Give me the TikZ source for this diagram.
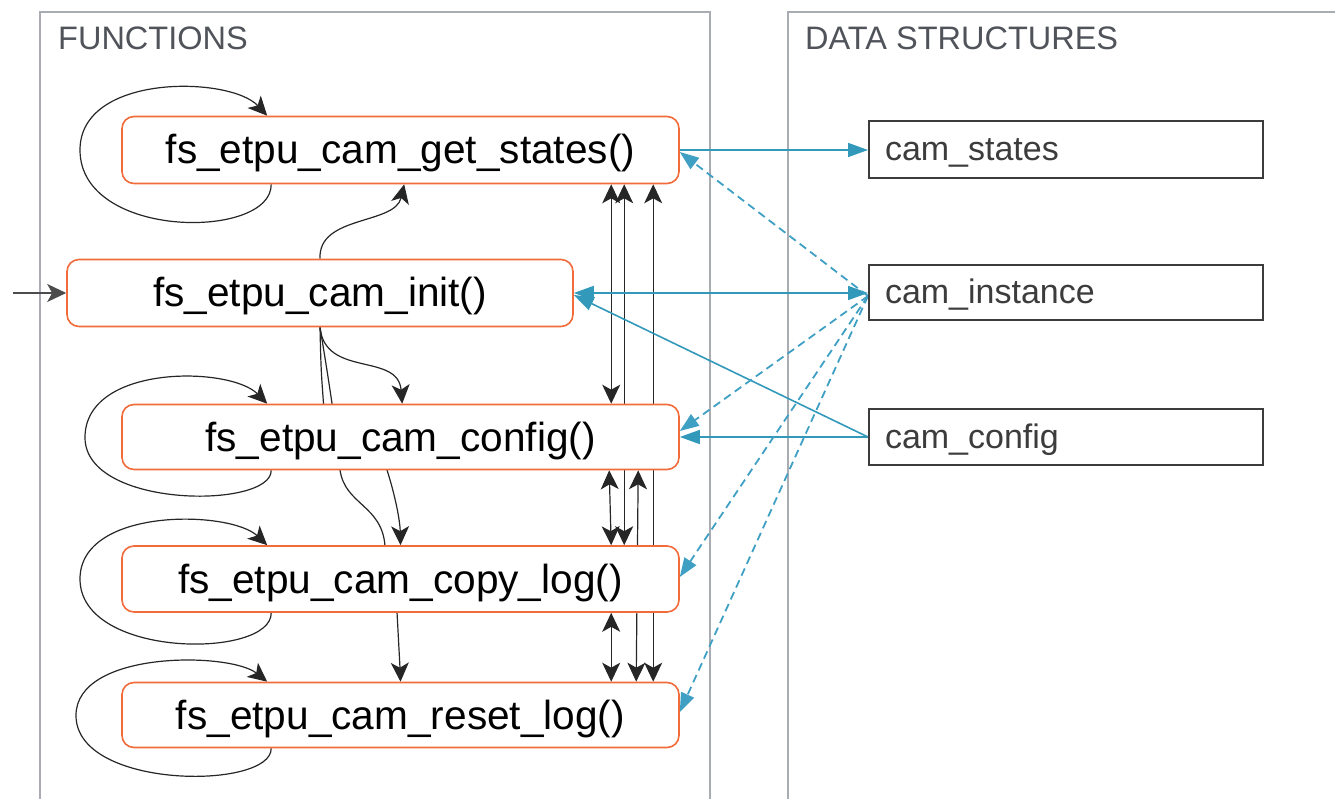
\documentclass[tikz,border=0pt]{standalone}
\usepackage{fontspec}
\setmainfont{Liberation Sans}
\usetikzlibrary{arrows.meta}
\definecolor{fnorange}{HTML}{F26B3A}
\definecolor{linkblue}{HTML}{3399BB}
\definecolor{dashblue}{HTML}{3FA0C4}
\definecolor{panelgray}{HTML}{A9ADB3}
\definecolor{hdrgray}{HTML}{50545A}
\definecolor{dsgray}{HTML}{3C3C3C}
\pgfdeclarelayer{bg}
\pgfsetlayers{bg,main}
\tikzset{
  fnbox/.style={draw=fnorange, line width=1.6pt, rounded corners=12pt, fill=white, inner sep=0pt,
    text height=30pt, text depth=2pt, font=\fontsize{40.6}{48}\selectfont},
  dsbox/.style={draw=dsgray, line width=2pt, fill=white, inner xsep=16pt, inner ysep=0pt,
    text height=27pt, text depth=5pt,
    text width=362pt, align=left, font=\fontsize{34}{40}\selectfont, text=dsgray},
  panel/.style={draw=panelgray, line width=2pt},
  hdr/.style={anchor=north west, inner sep=0pt, font=\fontsize{32.5}{38}\selectfont, text=hdrgray},
  call/.style={draw=black!85, line width=1.2pt, >={Stealth[length=19pt,width=18pt,inset=5pt]}},
  datalink/.style={draw=linkblue, line width=1.6pt, >={Triangle[length=20pt,width=14pt]}},
  readlink/.style={draw=dashblue, line width=1.8pt, dash pattern=on 8pt off 5pt,
    >={Triangle[length=19pt,width=14pt]}},
}
\begin{document}
\begin{tikzpicture}[x=1pt,y=-1pt]
\useasboundingbox (0,0) rectangle (1335,799);

% headers
\node[hdr] (hfun) at (58,27) {FUNCTIONS};
\node[hdr] (hdat) at (805,27) {DATA STRUCTURES};

% function boxes
\node[fnbox, minimum width=557pt, minimum height=67pt] (gs)  at (400.5,150) {fs\_etpu\_cam\_get\_states()};
\node[fnbox, minimum width=506pt, minimum height=67pt] (ini) at (320,293)   {fs\_etpu\_cam\_init()};
\node[fnbox, minimum width=557pt, minimum height=65pt] (cf)  at (400.5,437) {fs\_etpu\_cam\_config()};
\node[fnbox, minimum width=557pt, minimum height=66pt] (cl)  at (400.5,579) {fs\_etpu\_cam\_copy\_log()};
\node[fnbox, minimum width=557pt, minimum height=65pt] (rl)  at (400.5,715) {fs\_etpu\_cam\_reset\_log()};

% data boxes
\node[dsbox, minimum height=57pt] (cs) at (1066,150) {cam\_states};
\node[dsbox, minimum height=55pt] (ci) at (1066,293) {cam\_instance};
\node[dsbox, minimum height=56pt] (cc) at (1066,437) {cam\_config};

\coordinate (entry) at (13,293);

\begin{pgfonlayer}{bg}
  % panels
  \draw[panel] (40,12) rectangle (710,840);
  \draw[panel] (788,12) rectangle (1380,840);

  % entry
  \draw[call,draw=black!70,->] (entry) -- (ini.west);

  % self loops
  \draw[call,->] ([xshift=150pt]gs.south west) .. controls (272,240) and (80,240) .. (80,150)
     .. controls (80,73) and (230,76) .. ([xshift=146pt]gs.north west);
  \draw[call,->] ([xshift=150pt]cf.south west) .. controls (272,509) and (85,509) .. (85,437.5)
     .. controls (85,364) and (230,366) .. ([xshift=146pt]cf.north west);
  \draw[call,->] ([xshift=150pt]cl.south west) .. controls (272,659) and (80,659) .. (80,579)
     .. controls (80,507) and (230,510) .. ([xshift=146pt]cl.north west);
  \draw[call,->] ([xshift=150pt]rl.south west) .. controls (272,790) and (76,790) .. (76,715.5)
     .. controls (76,650) and (230,652) .. ([xshift=146pt]rl.north west);

  % init calls
  \draw[call,->] (ini.north) .. controls (318,215) and (395,225) .. ([xshift=283pt]gs.south west);
  \draw[call,->] (ini.south) .. controls (325,378) and (398,352) .. ([xshift=281pt]cf.north west);
  \draw[call,->] (ini.south) .. controls (321,370) .. (324,410) .. controls (330,450) and (380,450) .. (387,470)
     .. controls (395,495) and (400,520) .. (cl.north);
  \draw[call,->] (ini.south) .. controls (327,370) .. (333,410) -- (340,470)
     .. controls (345,505) and (382,505) .. (385,546) -- (397,612) .. controls (399,640) .. (rl.north);

  % mutual calls
  \draw[call,<->] ([xshift=490pt]gs.south west) -- ([xshift=490pt]cf.north west);
  \draw[call,<->] ([xshift=503pt]gs.south west) -- ([xshift=503pt]cl.north west);
  \draw[call,<->] ([xshift=532pt]gs.south west) -- ([xshift=532pt]rl.north west);
  \draw[call,<->] ([xshift=488pt]cf.south west) -- ([xshift=490pt]cl.north west);
  \draw[call,<->] ([xshift=517pt]cf.south west) -- ([xshift=515pt]rl.north west);
  \draw[call,<->] ([xshift=490pt]cl.south west) -- ([xshift=490pt]rl.north west);

  % data links
  \draw[datalink,->] (gs.east) -- (cs.west);
  \draw[datalink,<->] (ini.east) -- (ci.west);
  \draw[datalink,->] (cc.west) -- ([yshift=-2pt]ini.east);
  \draw[datalink,->] (cc.west) -- (cf.east);

  % reads of cam_instance
  \draw[readlink,->] ([yshift=-3pt]ci.west) -- ([yshift=-2pt]gs.east);
  \draw[readlink,->] ([yshift=-3pt]ci.west) -- ([yshift=6pt]cf.east);
  \draw[readlink,->] ([yshift=-3pt]ci.west) -- ([yshift=2pt]cl.east);
  \draw[readlink,->] ([yshift=-3pt]ci.west) -- ([yshift=3pt]rl.east);
\end{pgfonlayer}
\end{tikzpicture}
\end{document}
